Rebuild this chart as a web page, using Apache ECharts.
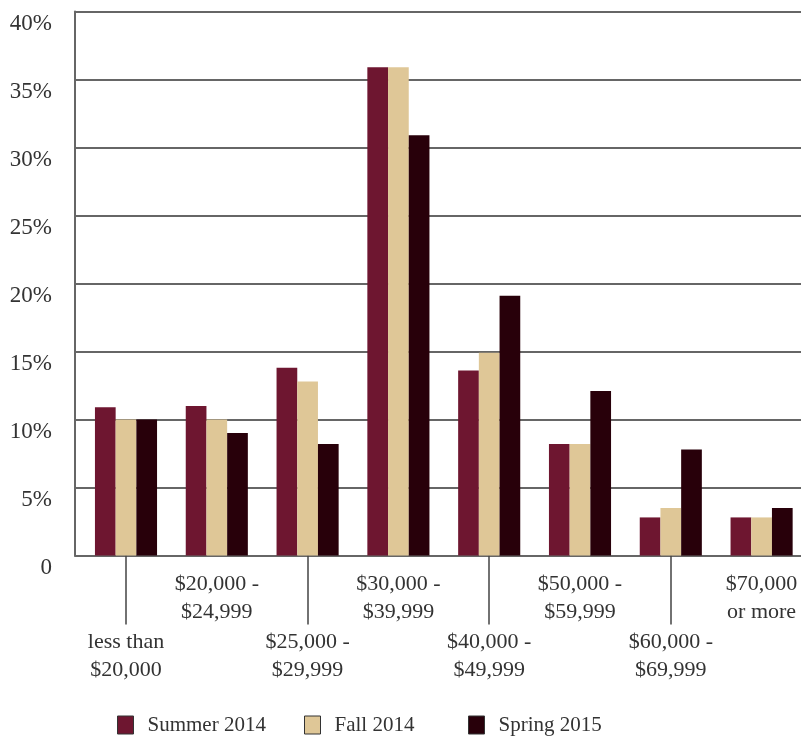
<!DOCTYPE html>
<html>
<head>
<meta charset="utf-8">
<script src="https://cdn.jsdelivr.net/npm/echarts@6/dist/echarts.min.js"></script>
<style>html,body{margin:0;padding:0;background:#fff;overflow:hidden;}#c{width:812px;height:746px;}</style>
</head>
<body>
<div id="c"></div>
<script>
const categories = ["less than\n$20,000", "$20,000 -\n$24,999", "$25,000 -\n$29,999", "$30,000 -\n$39,999", "$40,000 -\n$49,999", "$50,000 -\n$59,999", "$60,000 -\n$69,999", "$70,000\nor more"];
const seriesNames = ["Summer 2014", "Fall 2014", "Spring 2015"];
const summer2014 = [10.9, 11.0, 13.8, 35.9, 13.6, 8.2, 2.8, 2.8];
const fall2014 = [10.0, 10.0, 12.8, 35.9, 14.9, 8.2, 3.5, 2.8];
const spring2015 = [10.0, 9.0, 8.2, 30.9, 19.1, 12.1, 7.8, 3.5];
const yTicks = [0, 5, 10, 15, 20, 25, 30, 35, 40];

const colors = ['#6E1630', '#DFC797', '#28000A'];
const font = '"Liberation Serif", "DejaVu Serif", serif';
const textColor = '#333';
const legendLefts = [117, 304, 468];

const chart = echarts.init(document.getElementById('c'), null, {renderer: 'canvas'});
chart.setOption({
  animation: false,
  textStyle: {fontFamily: font},
  grid: [
    {left: 75, top: 11.5, width: 732, height: 544},
    {left: 80.6, top: 11.5, width: 726.4, height: 544}
  ],
  xAxis: [
    {gridIndex: 0, type: 'value', min: 0, max: 1, axisLine: {show: true, lineStyle: {color: '#666', width: 2}},
     axisTick: {show: false}, axisLabel: {show: false}, splitLine: {show: false}},
    {gridIndex: 1, type: 'category', data: categories,
     axisLine: {show: false},
     axisTick: {show: true, alignWithLabel: true, length: 69, interval: function (i) { return i % 2 === 0; },
       lineStyle: {color: '#444', width: 1.5}},
     axisLabel: {
       interval: 0, margin: 15,
       formatter: function (v, i) {
         const lines = v.split('\n').map(function (s) { return '{t|' + s + '}'; }).join('\n');
         return i % 2 === 0 ? '{g| }\n' + lines : lines;
       },
       rich: {
         t: {fontFamily: font, fontSize: 22, lineHeight: 28, color: textColor, align: 'center'},
         g: {fontSize: 4, lineHeight: 58}
       }
     }}
  ],
  yAxis: [
    {gridIndex: 0, type: 'value', min: 0, max: 40, interval: 5,
     axisLine: {show: true, lineStyle: {color: '#666', width: 2}},
     axisTick: {show: false},
     splitLine: {show: true, lineStyle: {color: '#333', width: 1.7}},
     axisLabel: {margin: 23, fontFamily: font, fontSize: 23, color: textColor, verticalAlign: 'top', padding: [1, 0, 0, 0],
       formatter: function (v) { return yTicks.indexOf(v) >= 0 ? (v === 0 ? '0' : v + '%') : ''; }}},
    {gridIndex: 1, type: 'value', min: 0, max: 40, show: false}
  ],
  legend: seriesNames.map(function (n, i) {
    return {
      left: legendLefts[i], top: 714.5, padding: 0, itemWidth: 16, itemHeight: 18,
      icon: 'rect', data: [n],
      textStyle: {fontFamily: font, fontSize: 21, color: textColor, padding: [0, 0, 0, 9]},
      itemStyle: {borderColor: '#333', borderWidth: 1}
    };
  }),
  series: [
    {name: seriesNames[0], type: 'bar', xAxisIndex: 1, yAxisIndex: 1, data: summer2014, barWidth: 20.7, barGap: '0%', itemStyle: {color: colors[0]}},
    {name: seriesNames[1], type: 'bar', xAxisIndex: 1, yAxisIndex: 1, data: fall2014, barWidth: 20.7, barGap: '0%', itemStyle: {color: colors[1]}},
    {name: seriesNames[2], type: 'bar', xAxisIndex: 1, yAxisIndex: 1, data: spring2015, barWidth: 20.7, barGap: '0%', itemStyle: {color: colors[2]}}
  ]
});
</script>
</body>
</html>
